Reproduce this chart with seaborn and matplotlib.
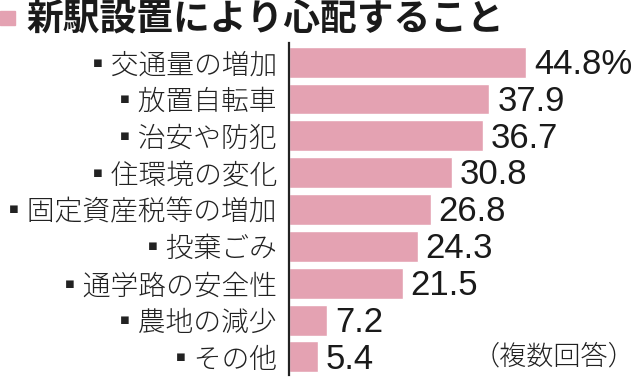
import matplotlib
matplotlib.use("Agg")
import matplotlib.pyplot as plt
import matplotlib.patches as mpatches
import seaborn as sns
import pandas as pd

title = "新駅設置により心配すること"
categories = ["交通量の増加", "放置自転車", "治安や防犯", "住環境の変化", "固定資産税等の増加",
              "投棄ごみ", "通学路の安全性", "農地の減少", "その他"]
values = [44.8, 37.9, 36.7, 30.8, 26.8, 24.3, 21.5, 7.2, 5.4]
value_labels = ["44.8%", "37.9", "36.7", "30.8", "26.8", "24.3", "21.5", "7.2", "5.4"]
note = "（複数回答）"

bar_color = "#E4A2B2"
jp = ["Noto Sans CJK JP", "DejaVu Sans"]

sns.set_theme(style="white")
plt.rcParams["font.family"] = jp

W, H = 639, 379
fig = plt.figure(figsize=(W / 100, H / 100), dpi=100)
# axes in pixel coordinates: left 289, right 639, top 43, bottom 375
ax = fig.add_axes([289 / W, (H - 375) / H, (W - 289) / W, (375 - 43) / H])

df = pd.DataFrame({"cat": categories, "val": values})
sns.barplot(data=df, x="val", y="cat", orient="h", color=bar_color,
            saturation=1, width=0.84, ax=ax)

px_per_unit = 237 / 44.8
ax.set_xlim(0, (W - 289) / px_per_unit)
ax.set_ylim(8.49, -0.52)

ax.set_xlabel("")
ax.set_ylabel("")
ax.set_xticks([])
ax.set_yticks(range(len(categories)))
ax.set_yticklabels(["▪" + c for c in categories], fontsize=20, color="#222222",
                   fontweight="light")
ax.tick_params(axis="y", length=0, pad=8)

for s in ["top", "right", "bottom"]:
    ax.spines[s].set_visible(False)
ax.spines["left"].set_color("#222222")
ax.spines["left"].set_linewidth(1.6)

for i, (v, lab) in enumerate(zip(values, value_labels)):
    ax.text(v + 1.5, i + 0.06, lab, va="center", ha="left", fontsize=25,
            family=["Liberation Sans", "DejaVu Sans"], color="#1a1a1a")

ax.text(0.99, 8.0, note, transform=ax.get_yaxis_transform(), ha="right", va="center",
        fontsize=19.5, color="#222222", fontweight="light")

# title with pink marker
fig.patches.append(mpatches.Rectangle((0, (H - 25) / H), 15 / W, 14 / H,
                                      transform=fig.transFigure, color=bar_color))
fig.text(26 / W, (H - 19) / H, title, ha="left", va="center", fontsize=26.5,
         fontweight="bold", color="#1a1a1a")

fig.savefig("out.png", dpi=100)
